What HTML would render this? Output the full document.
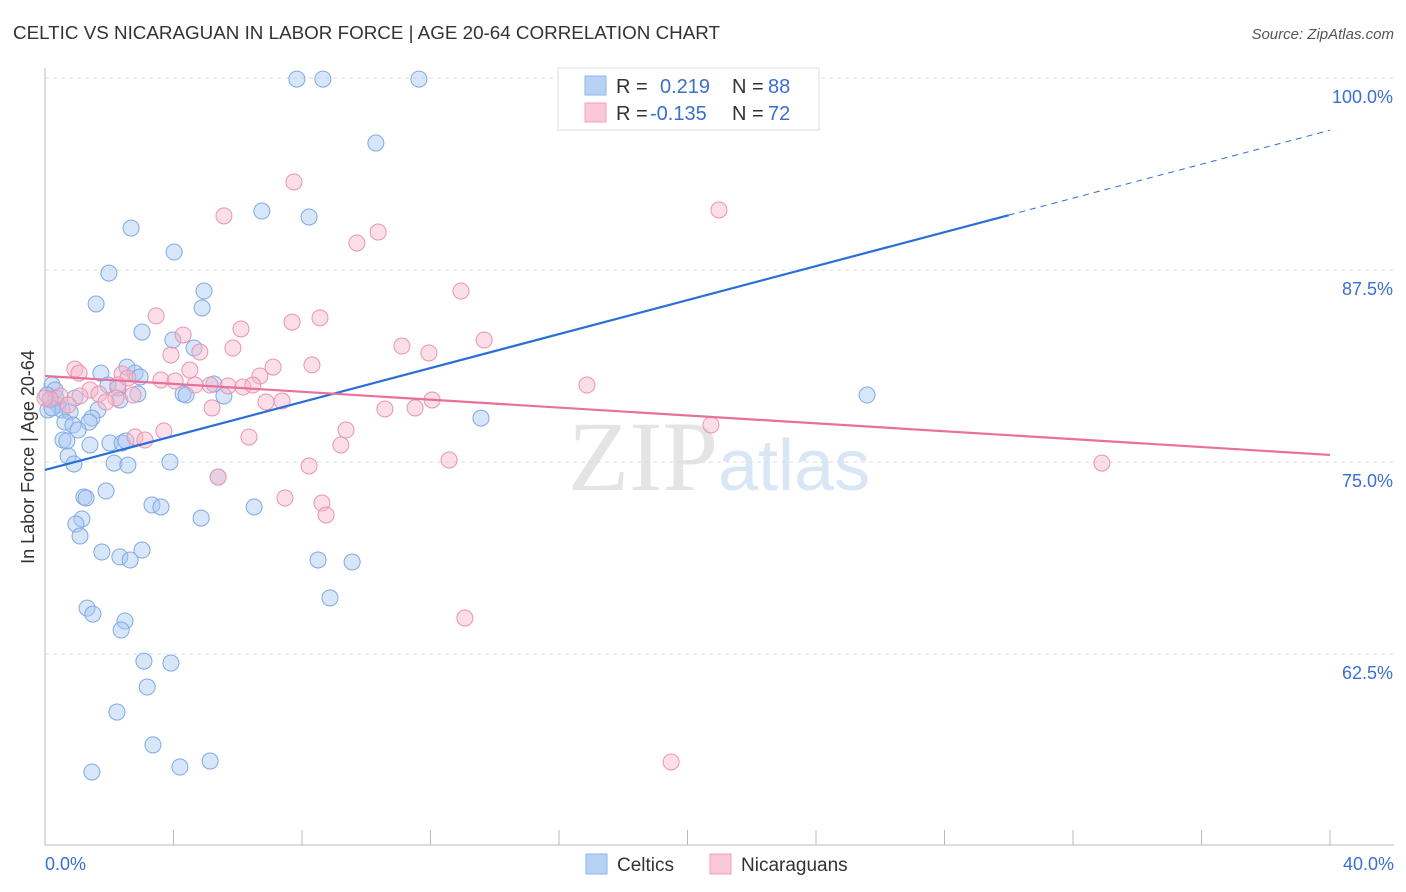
<!DOCTYPE html>
<html><head><meta charset="utf-8"><style>
body{margin:0;background:#fff;font-family:"Liberation Sans",sans-serif;}
svg{display:block}
</style></head><body>
<svg id="chart" width="1406" height="892" xmlns="http://www.w3.org/2000/svg">
<text x="13" y="39" font-size="18" fill="#333" textLength="707" lengthAdjust="spacingAndGlyphs">CELTIC VS NICARAGUAN IN LABOR FORCE | AGE 20-64 CORRELATION CHART</text>
<text x="1394" y="39" font-size="15" fill="#555" font-style="italic" text-anchor="end">Source: ZipAtlas.com</text>
<text x="718" y="490" font-size="100" fill="#e4e4e4" text-anchor="end" font-family="Liberation Serif">ZIP</text>
<text x="718" y="490" font-size="72" fill="#d8e6f6">atlas</text>
<g id="grid"></g><g id="axes"></g><g id="points"></g><g id="trends"></g>
<text transform="translate(34,457) rotate(-90)" font-size="18" fill="#333" text-anchor="middle">In Labor Force | Age 20-64</text>
<g>
<rect x="558" y="68" width="261" height="62" fill="#fff" stroke="#ddd"/>
<rect x="585" y="76" width="21" height="19" fill="#b8d2f6" stroke="#8fb4e8"/>
<rect x="585" y="103" width="21" height="19" fill="#fac8d6" stroke="#f0a0b8"/>
<text x="616" y="93" font-size="20" fill="#333">R = </text><text x="660" y="93" font-size="20" fill="#3a6fd0">0.219</text>
<text x="732" y="93" font-size="20" fill="#333">N = </text><text x="768" y="93" font-size="20" fill="#3a6fd0">88</text>
<text x="616" y="120" font-size="20" fill="#333">R = </text><text x="650" y="120" font-size="20" fill="#3a6fd0">-0.135</text>
<text x="732" y="120" font-size="20" fill="#333">N = </text><text x="768" y="120" font-size="20" fill="#3a6fd0">72</text>
</g>
<g>
<rect x="586" y="854" width="21" height="20" fill="#b8d2f6" stroke="#8fb4e8"/>
<text x="617" y="871" font-size="19" fill="#333">Celtics</text>
<rect x="710" y="854" width="21" height="20" fill="#fac8d6" stroke="#f0a0b8"/>
<text x="741" y="871" font-size="19" fill="#333">Nicaraguans</text>
</g>
</svg>
<script>
const yTicks=[100,87.5,75,62.5];
const yTickLabels=["100.0%","87.5%","75.0%","62.5%"];
const xTickLabels=["0.0%","40.0%"];
const celticX=[7.84,8.65,11.64,10.30,6.75,8.22,2.68,4.02,1.99,4.95,1.59,4.89,3.02,3.98,4.64,2.55,1.74,2.80,2.96,5.26,4.30,2.89,4.39,5.57,25.59,13.57,0.22,0.31,0.06,0.16,0.40,0.53,0.09,0.78,1.65,1.46,0.62,0.87,1.37,0.56,0.68,2.02,2.40,2.52,0.72,0.90,2.15,2.58,3.89,1.40,1.90,1.21,1.28,3.33,3.61,4.86,6.51,1.15,0.96,1.09,1.77,2.33,2.65,3.02,8.50,9.56,8.87,1.31,1.49,2.49,2.37,3.08,3.92,3.18,2.24,3.36,1.46,4.20,5.14,5.39,1.96,2.27,0.93,0.34,0.22,1.03,2.33];
const celticY=[99.93,99.93,99.93,95.77,91.34,90.95,90.23,88.67,87.30,86.13,85.29,85.03,83.46,82.94,82.42,81.18,80.79,80.79,80.53,80.08,79.43,79.43,79.36,79.30,79.36,77.86,80.01,79.69,79.36,79.04,78.71,78.39,78.39,78.26,78.39,77.86,77.60,77.41,77.60,76.43,76.37,76.24,76.24,76.37,75.39,74.87,74.93,74.80,75.00,76.11,73.11,72.72,72.66,72.20,72.07,71.35,72.07,71.29,70.96,70.18,69.14,68.82,68.62,69.27,68.62,68.49,66.15,65.49,65.10,64.65,64.06,62.04,61.91,60.35,58.72,56.58,54.82,55.14,55.53,74.02,80.01,79.82,79.17,79.17,78.52,77.08,79.04];
const nicX=[7.75,5.57,20.98,10.37,9.71,12.95,3.46,4.30,8.56,7.69,6.10,13.67,11.11,5.85,11.95,4.82,3.92,8.31,7.10,0.93,4.51,1.06,2.40,2.58,6.69,3.61,4.05,5.14,5.70,6.16,6.47,4.67,2.27,16.87,1.40,1.09,1.68,2.74,2.21,1.90,7.38,6.88,12.05,5.20,10.58,11.52,0.47,0.16,0.72,0,3.70,9.37,2.80,3.11,6.35,9.21,20.73,12.58,8.22,32.90,5.39,7.47,8.62,8.75,13.07,19.49];
const nicY=[93.23,91.02,91.41,89.97,89.26,86.13,84.51,83.27,84.38,84.11,83.66,82.94,82.55,82.42,82.10,82.16,81.97,81.32,81.18,81.05,80.99,80.79,80.73,80.47,80.60,80.34,80.27,80.01,79.95,79.88,80.01,80.01,80.01,80.01,79.69,79.30,79.43,79.36,79.17,78.91,78.97,78.91,79.04,78.52,78.45,78.52,79.30,79.10,78.71,79.17,77.02,77.08,76.63,76.43,76.63,76.11,77.41,75.13,74.74,74.93,74.02,72.66,72.33,71.55,64.84,55.47];
const celticTrend=[74.48,0.553];
const nicTrend=[80.60,-0.1285];
const X=v=>45+v*32.125, Y=v=>78+(100-v)*15.36;
const NS="http://www.w3.org/2000/svg";
function mk(p,t,a){const e=document.createElementNS(NS,t);for(const k in a)e.setAttribute(k,a[k]);document.getElementById(p).appendChild(e);return e;}
yTicks.forEach((t,i)=>{
 const l=mk('grid','line',{x1:45,x2:1394,y1:Y(t),y2:Y(t),stroke:'#ddd','stroke-dasharray':'4,4'});
 
 
 const tx=mk('grid','text',{x:1393,y:Y(t)+25,'font-size':18,fill:'#3a6fd0','text-anchor':'end'});
 tx.textContent=yTickLabels[i];
 
 
});
const ax=mk('axes','line',{x1:45,x2:45,y1:68,y2:845,stroke:'#bbb'});


const bx=mk('axes','line',{x1:45,x2:1394,y1:845,y2:845,stroke:'#bbb'});


for(let i=0;i<=10;i++){const t=mk('axes','line',{x1:X(i*4),x2:X(i*4),y1:830,y2:845,stroke:'#bbb'});
 
 }
[[0,'start',45],[40,'end',1394]].forEach((d,i)=>{const t=mk('axes','text',{x:d[2],y:870,'font-size':18,fill:'#3a6fd0','text-anchor':d[1]});t.textContent=xTickLabels[i];
 
 });
function pts(xs,ys,fill,stroke,name){xs.forEach((x,i)=>{const c=mk('points','circle',{cx:X(x),cy:Y(ys[i]),r:8,fill:fill,'fill-opacity':0.45,stroke:stroke,'stroke-width':1});
 
 });}
pts(celticX,celticY,'#a9c8f2','#7fa9e4','celtic-point');
pts(nicX,nicY,'#f7b6ca','#ea94b0','nicaraguan-point');
const f=(tr,x)=>tr[0]+tr[1]*x;
let l1=mk('trends','line',{x1:X(0),y1:Y(f(celticTrend,0)),x2:X(30),y2:Y(f(celticTrend,30)),stroke:'#2a6fd8','stroke-width':2.2});


let l2=mk('trends','line',{x1:X(30),y1:Y(f(celticTrend,30)),x2:X(40),y2:Y(f(celticTrend,40)),stroke:'#2a6fd8','stroke-width':1,'stroke-dasharray':'6,5'});


let l3=mk('trends','line',{x1:X(0),y1:Y(f(nicTrend,0)),x2:X(40),y2:Y(f(nicTrend,40)),stroke:'#e8709a','stroke-width':2.2});


</script>
</body></html>
